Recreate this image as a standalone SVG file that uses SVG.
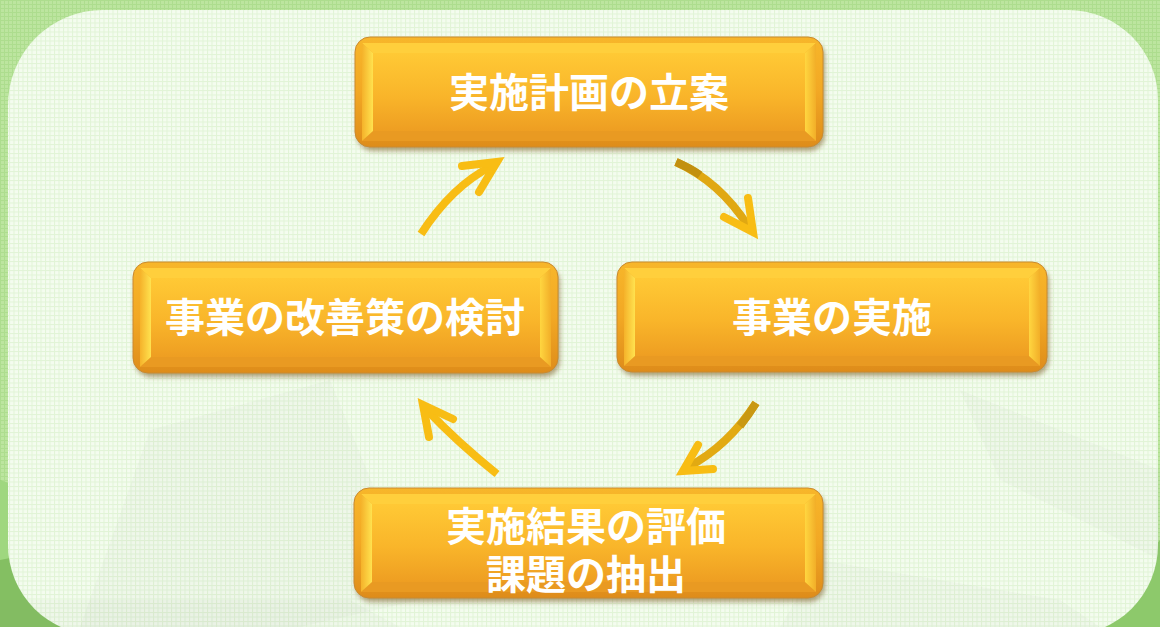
<svg xmlns="http://www.w3.org/2000/svg" width="1160" height="627" viewBox="0 0 1160 627">
<defs>
<pattern id="gridOuter" width="4" height="4" patternUnits="userSpaceOnUse">
<rect width="4" height="4" fill="#bce59f"/>
<rect width="4" height="1" fill="#addd8e"/>
<rect width="1" height="4" fill="#addd8e"/>
</pattern>
<pattern id="gridInner" width="4.5" height="4.5" patternUnits="userSpaceOnUse">
<rect width="4.5" height="4.5" fill="#f4fcef"/>
<rect width="4.5" height="1" fill="#e1f4d6"/>
<rect width="1" height="4.5" fill="#e1f4d6"/>
</pattern>
<linearGradient id="rim" x1="0" y1="0" x2="0" y2="1">
<stop offset="0" stop-color="#f7b62a"/>
<stop offset="0.5" stop-color="#f2a824"/>
<stop offset="1" stop-color="#de8c1a"/>
</linearGradient>
<linearGradient id="face" x1="0" y1="0" x2="0" y2="1">
<stop offset="0" stop-color="#ffc935"/>
<stop offset="0.55" stop-color="#f9b52a"/>
<stop offset="1" stop-color="#ee9e22"/>
</linearGradient>
<linearGradient id="bevL" x1="0" y1="0" x2="1" y2="0">
<stop offset="0" stop-color="#f5b22a"/>
<stop offset="1" stop-color="#ffe24f"/>
</linearGradient>
<linearGradient id="bevR" x1="0" y1="0" x2="1" y2="0">
<stop offset="0" stop-color="#ffd640"/>
<stop offset="1" stop-color="#f2ae28"/>
</linearGradient>
<linearGradient id="arrowGrad" x1="0" y1="0" x2="1" y2="0">
<stop offset="0" stop-color="#c99612"/>
<stop offset="1" stop-color="#f9c016"/>
</linearGradient>
<filter id="shadow" x="-10%" y="-20%" width="120%" height="150%">
<feGaussianBlur stdDeviation="2.5"/>
</filter>
<style>
.shadow{fill:#7a5a20;opacity:0.55;filter:url(#shadow)}
.rim{fill:url(#rim);stroke:#c98a30;stroke-width:1}
.face{fill:url(#face)}
.bl{fill:url(#bevL)}
.br{fill:url(#bevR)}
.bt{fill:#ffcf3c}
.bb{fill:#e99a22}
.lbl{font-family:"Noto Sans CJK JP","Noto Sans CJK SC",sans-serif;font-size:40px;font-weight:600;fill:#ffffff;text-anchor:middle}
.arr{fill:none;stroke:#f8bd14;stroke-width:8;stroke-linecap:butt;stroke-linejoin:miter}
.head{fill:none;stroke:#f8bd14;stroke-width:8;stroke-linecap:round;stroke-linejoin:miter}
.facet{fill:#7f7f7f;opacity:0.035}
</style>
</defs>

<g id="background">
<rect width="1160" height="627" fill="url(#gridOuter)"/>
<polygon points="0,480 0,627 230,627 100,540" fill="#84bf62"/>
<polygon points="0,480 60,500 100,540 0,560" fill="#9fd77f"/>
<polygon points="1160,540 1160,627 1080,627" fill="#8dc96b"/>
<path d="M8,105 A95,95 0 0 1 103,10 L1068,10 A90,90 0 0 1 1158,100 L1158,545 A90,90 0 0 1 1068,635 L98,635 A90,90 0 0 1 8,545 Z" fill="url(#gridInner)"/>
<polygon class="facet" points="150,430 330,380 420,600 300,627 80,627"/>
<polygon class="facet" points="960,390 1160,470 1160,560 1000,480"/>
<polygon class="facet" points="0,600 350,600 400,627 0,627"/>
<polygon class="facet" points="820,560 1060,600 1100,627 780,627"/>
</g>

<g id="connectors">
<g id="arrow-left-to-top">
<path class="arr" d="M421,234 Q452,186 492,166" stroke="url(#arrowGrad)"/>
<path class="head" d="M462,166 L497,162 L479,192"/>
</g>
<g id="arrow-top-to-right">
<path class="arr" d="M676,162 Q720,182 748,226" style="stroke:#e0a812"/>
<path class="arr" d="M676,162 Q690,168 700,175" style="stroke:#c2900f"/>
<path class="head" d="M748,198 L753,232 L724,217"/>
</g>
<g id="arrow-right-to-bottom">
<path class="arr" d="M756,403 Q728,446 688,467" style="stroke:#e2aa12"/>
<path class="arr" d="M756,403 Q748,416 740,426" style="stroke:#c99812"/>
<path class="head" d="M698,445 L683,471 L713,469"/>
</g>
<g id="arrow-bottom-to-left">
<path class="arr" d="M497,474 Q456,441 427,410"/>
<path class="head" d="M453,419 L423,405 L429,437"/>
</g>
</g>

<g id="node-plan">
<rect class="shadow" x="357" y="41" width="468" height="110" rx="16"/>
<rect class="rim" x="355" y="37" width="468" height="110" rx="15"/>
<polygon class="bt" points="362,43 816,43 805,53 373,53"/>
<polygon class="bb" points="373,131 805,131 816,141 362,141"/>
<polygon class="bl" points="362,43 373,53 373,131 362,141"/>
<polygon class="br" points="805,53 816,43 816,141 805,131"/>
<rect class="face" x="373" y="53" width="432" height="78"/>
<text class="lbl" x="589" y="107">実施計画の立案</text>
</g>

<g id="node-execute">
<rect class="shadow" x="619" y="266" width="430" height="110" rx="16"/>
<rect class="rim" x="617" y="262" width="430" height="110" rx="15"/>
<polygon class="bt" points="624,268 1040,268 1029,278 635,278"/>
<polygon class="bb" points="635,356 1029,356 1040,366 624,366"/>
<polygon class="bl" points="624,268 635,278 635,356 624,366"/>
<polygon class="br" points="1029,278 1040,268 1040,366 1029,356"/>
<rect class="face" x="635" y="278" width="394" height="78"/>
<text class="lbl" x="832" y="332">事業の実施</text>
</g>

<g id="node-evaluate">
<rect class="shadow" x="356" y="492" width="469" height="110" rx="16"/>
<rect class="rim" x="354" y="488" width="469" height="110" rx="15"/>
<polygon class="bt" points="361,494 816,494 805,504 372,504"/>
<polygon class="bb" points="372,582 805,582 816,592 361,592"/>
<polygon class="bl" points="361,494 372,504 372,582 361,592"/>
<polygon class="br" points="805,504 816,494 816,592 805,582"/>
<rect class="face" x="372" y="504" width="433" height="78"/>
<text class="lbl"><tspan x="586" y="541">実施結果の評価</tspan><tspan x="586" y="589">課題の抽出</tspan></text>
</g>

<g id="node-improve">
<rect class="shadow" x="135" y="266" width="425" height="111" rx="16"/>
<rect class="rim" x="133" y="262" width="425" height="111" rx="15"/>
<polygon class="bt" points="140,268 551,268 540,278 151,278"/>
<polygon class="bb" points="151,357 540,357 551,367 140,367"/>
<polygon class="bl" points="140,268 151,278 151,357 140,367"/>
<polygon class="br" points="540,278 551,268 551,367 540,357"/>
<rect class="face" x="151" y="278" width="389" height="79"/>
<text class="lbl" x="345" y="332">事業の改善策の検討</text>
</g>
</svg>
